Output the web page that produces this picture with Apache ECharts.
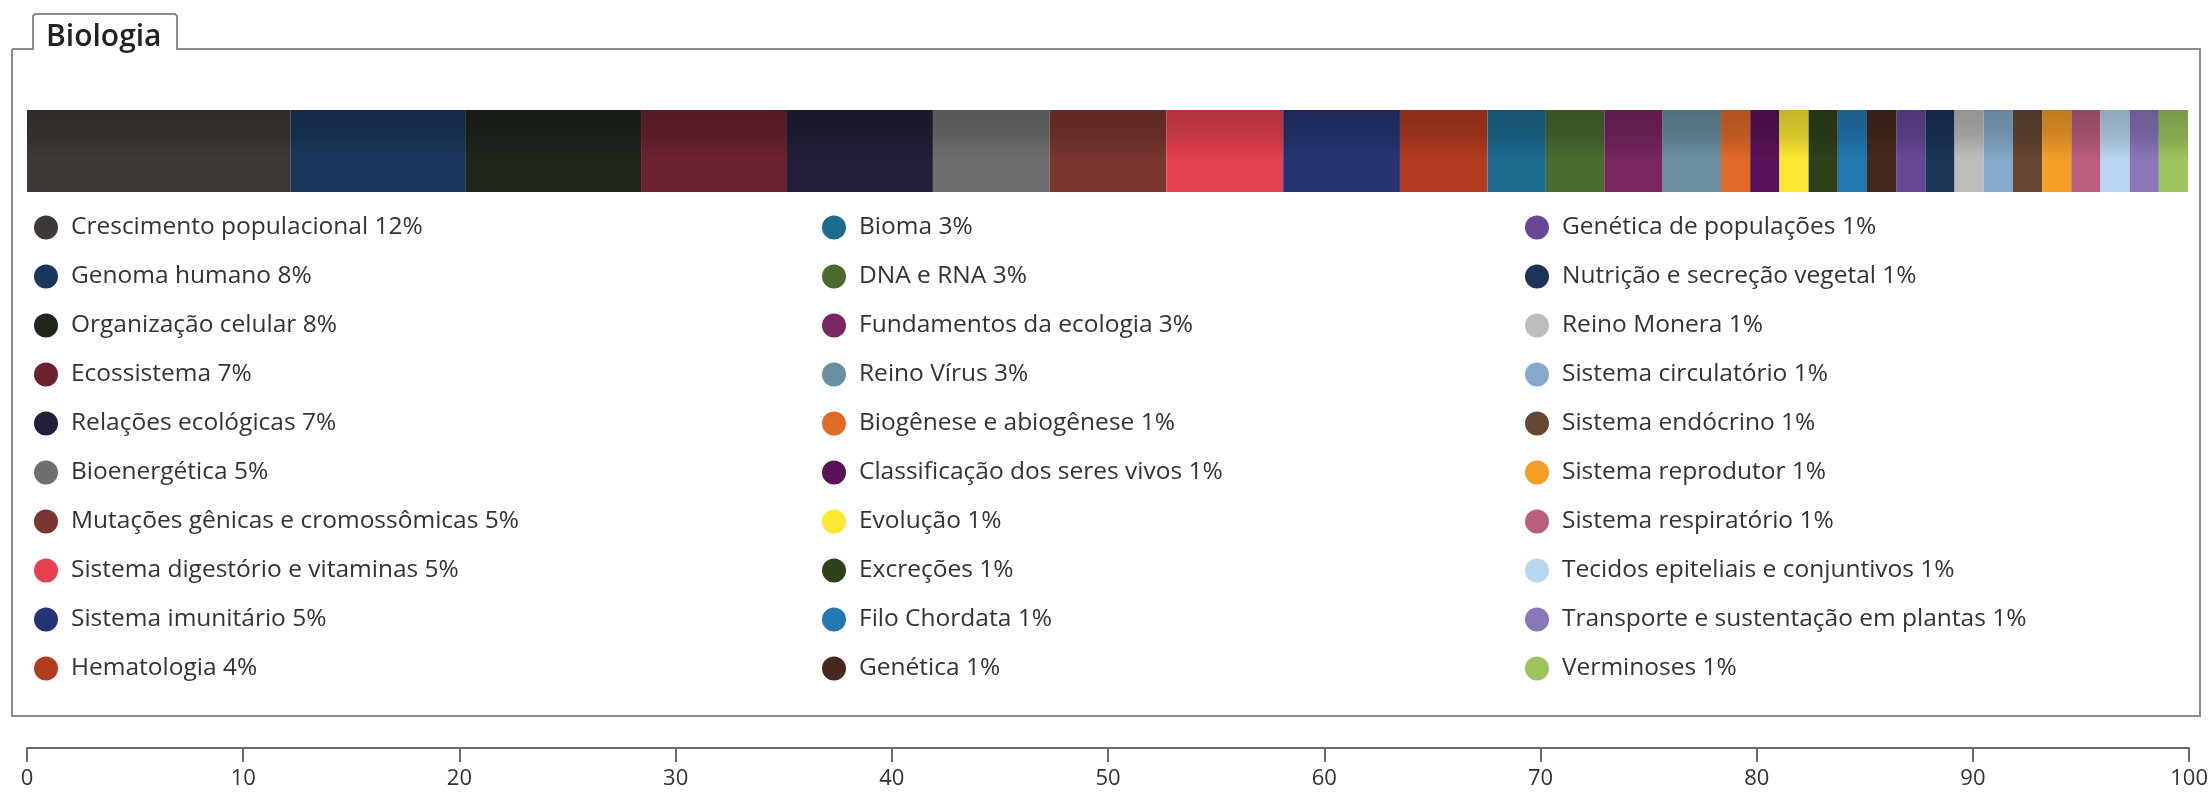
<!DOCTYPE html>
<html>
<head>
<meta charset="utf-8">
<title>Biologia</title>
<script src="https://cdn.jsdelivr.net/npm/echarts@6/dist/echarts.min.js"></script>
<style>
  html, body { margin: 0; padding: 0; background: #fff; }
  #chart { width: 2211px; height: 794px; }
</style>
</head>
<body>
<div id="chart"></div>
<script>
const topics = [
  'Crescimento populacional', 'Genoma humano', 'Organização celular', 'Ecossistema',
  'Relações ecológicas', 'Bioenergética', 'Mutações gênicas e cromossômicas',
  'Sistema digestório e vitaminas', 'Sistema imunitário', 'Hematologia',
  'Bioma', 'DNA e RNA', 'Fundamentos da ecologia', 'Reino Vírus',
  'Biogênese e abiogênese', 'Classificação dos seres vivos', 'Evolução', 'Excreções',
  'Filo Chordata', 'Genética',
  'Genética de populações', 'Nutrição e secreção vegetal', 'Reino Monera',
  'Sistema circulatório', 'Sistema endócrino', 'Sistema reprodutor',
  'Sistema respiratório', 'Tecidos epiteliais e conjuntivos',
  'Transporte e sustentação em plantas', 'Verminoses'
]
// widths of the segments (percent of 100)
const shares = [
  12.2, 8.1, 8.1, 6.75, 6.75, 5.4, 5.4, 5.4, 5.4, 4.05,
  2.7, 2.7, 2.7, 2.7, 1.35, 1.35, 1.35, 1.35, 1.35, 1.35,
  1.35, 1.35, 1.35, 1.35, 1.35, 1.35, 1.35, 1.35, 1.35, 1.35
]
// percentages as printed in the legend
const shareLabels = [
  '12%', '8%', '8%', '7%', '7%', '5%', '5%', '5%', '5%', '4%',
  '3%', '3%', '3%', '3%', '1%', '1%', '1%', '1%', '1%', '1%',
  '1%', '1%', '1%', '1%', '1%', '1%', '1%', '1%', '1%', '1%'
]
const colors = [
  '#3e3836', '#1b365d', '#1f261c', '#6b2230', '#231f38', '#6f6f6f', '#7a3530',
  '#e5404f', '#253573', '#b23b20', '#1d6b8f', '#4a6a30', '#782560', '#6a90a0',
  '#e06a28', '#5a1258', '#fce832', '#2e4119', '#2278b0', '#45291e',
  '#674897', '#1b3458', '#bdbdbd', '#86aacb', '#654733', '#f49e28',
  '#b95e7e', '#b9d7f0', '#8a76b8', '#9ec45d'
]

const shade = (hex, k) => {
  const n = parseInt(hex.slice(1), 16)
  const c = [(n >> 16) & 255, (n >> 8) & 255, n & 255].map(v => Math.round(v * (1 - k)))
  return 'rgb(' + c.join(',') + ')'
}

const labelFor = {}
topics.forEach((t, i) => { labelFor[t] = t + ' ' + shareLabels[i] })

const series = topics.map((t, i) => ({
  name: t,
  type: 'bar',
  stack: 'all',
  barWidth: 82,
  silent: true,
  animation: false,
  itemStyle: {
    color: new echarts.graphic.LinearGradient(0, 0, 0, 1, [
      { offset: 0, color: shade(colors[i], 0.22) },
      { offset: 0.3, color: shade(colors[i], 0.16) },
      { offset: 0.6, color: colors[i] },
      { offset: 1, color: colors[i] },
    ]),
  },
  data: [shares[i]],
}))

const legendCol = (from, to, left) => ({
  orient: 'vertical',
  left: left,
  top: 210,
  icon: 'circle',
  itemWidth: 24,
  itemHeight: 24,
  itemGap: 24,
  selectedMode: false,
  formatter: name => labelFor[name],
  textStyle: {
    fontFamily: 'Open Sans',
    fontSize: 24.5,
    lineHeight: 25,
    color: '#333',
    padding: [0, 0, 0, 8],
  },
  data: topics.slice(from, to).map((t, k) => ({
    name: t,
    itemStyle: { color: colors[from + k] },
  })),
})

const chart = echarts.init(document.getElementById('chart'))
chart.setOption({
  animation: false,
  graphic: [
    {
      type: 'polyline',
      shape: {
        points: [[12, 49], [33, 49], [33, 16], [35, 14], [175, 14], [177, 16], [177, 49],
          [2200, 49], [2200, 716], [12, 716], [12, 49]],
      },
      style: { stroke: '#8c8c8c', lineWidth: 2, fill: null },
      z: 0,
    },
    {
      type: 'text',
      left: 46,
      top: 22,
      style: {
        text: 'Biologia',
        fontFamily: 'Open Sans',
        fontSize: 30,
        fontWeight: 600,
        fill: '#222',
      },
    },
  ],
  legend: [
    legendCol(0, 10, 29),
    legendCol(10, 20, 817),
    legendCol(20, 30, 1520),
  ],
  grid: { left: 27, right: 21, top: 110, height: 82 },
  xAxis: {
    type: 'value',
    min: 0,
    max: 100,
    interval: 10,
    offset: 556,
    axisLine: { show: true, lineStyle: { color: '#6a6a6a', width: 2 } },
    axisTick: { show: true, length: 14, lineStyle: { color: '#6a6a6a', width: 2 } },
    splitLine: { show: false },
    axisLabel: {
      margin: 20,
      fontFamily: 'Open Sans',
      fontSize: 22,
      color: '#333',
    },
  },
  yAxis: {
    type: 'category',
    data: ['Biologia'],
    show: false,
  },
  series: series,
})
</script>
</body>
</html>
